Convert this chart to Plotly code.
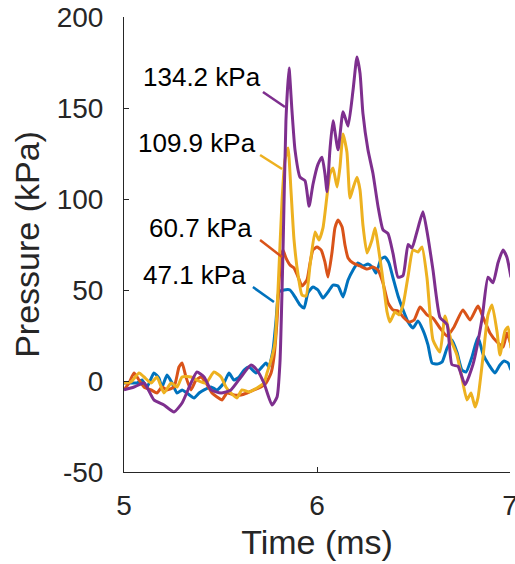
import plotly.graph_objects as go

# ---- data (time in ms, pressure in kPa) ----
blue_t = [5.000, 5.036, 5.067, 5.093, 5.119, 5.155, 5.181, 5.197, 5.223, 5.249, 5.275, 5.301, 5.326, 5.363,
          5.389, 5.415, 5.451, 5.482, 5.518, 5.544, 5.570, 5.596, 5.622, 5.648, 5.684, 5.710, 5.736, 5.751,
          5.772, 5.788, 5.803, 5.829, 5.860, 5.886, 5.912, 5.933, 5.953, 5.979, 6.005, 6.031, 6.057, 6.083,
          6.109, 6.135, 6.161, 6.187, 6.212, 6.238, 6.264, 6.290, 6.306, 6.332, 6.352, 6.373, 6.394, 6.420,
          6.446, 6.472, 6.497, 6.523, 6.549, 6.575, 6.596, 6.622, 6.648, 6.674, 6.699, 6.725, 6.751, 6.772,
          6.803, 6.834, 6.860, 6.891, 6.922, 6.948, 6.969, 6.990, 7.005]
blue_p = [-1.1, -1.1, -1.1, 0.5, -3.3, 4.4, 1.6, -3.3, 3.3, -1.1, -6.6, -4.9, -6.6, -9.3,
          -6.6, -4.9, -3.3, -4.9, -1.1, 4.4, 0.5, 2.2, 6.0, 7.7, 4.4, 7.1, 9.9, 7.7,
          17.0, 33.5, 49.0, 50.0, 50.0, 46.2, 41.8, 40.1, 48.4, 51.6, 50.0, 45.6, 48.9, 52.7,
          52.2, 46.2, 55.5, 61.0, 64.8, 63.2, 64.3, 62.1, 59.3, 67.0, 68.1, 64.8, 56.6, 46.7,
          39.0, 32.4, 29.1, 33.0, 28.0, 19.8, 9.9, 9.3, 10.4, 18.1, 22.5, 15.9, 6.0, 4.9,
          13.2, 24.2, 14.8, 8.8, 4.4, 8.8, 11.0, 9.9, 6.0]

orange_t = [5.000, 5.026, 5.052, 5.078, 5.104, 5.140, 5.171, 5.197, 5.223, 5.259, 5.285, 5.301, 5.321, 5.347,
            5.373, 5.399, 5.425, 5.456, 5.482, 5.508, 5.534, 5.570, 5.606, 5.637, 5.674, 5.710, 5.736, 5.762,
            5.777, 5.793, 5.803, 5.813, 5.824, 5.839, 5.860, 5.881, 5.902, 5.922, 5.948, 5.964, 5.979, 6.000,
            6.021, 6.041, 6.057, 6.078, 6.093, 6.109, 6.130, 6.145, 6.161, 6.187, 6.223, 6.259, 6.290, 6.316,
            6.342, 6.368, 6.394, 6.420, 6.446, 6.477, 6.503, 6.534, 6.570, 6.601, 6.637, 6.674, 6.710, 6.756,
            6.793, 6.834, 6.860, 6.896, 6.933, 6.964, 6.984, 7.005]
orange_p = [-4.9, -1.1, 4.4, 0.5, -3.3, -4.9, -6.6, -3.3, -4.9, -3.3, 7.7, 9.9, 2.2, -4.9,
            0.5, 2.2, -1.1, -6.6, -8.8, -10.4, -6.6, -7.7, -7.7, -6.6, -4.9, -3.3, -1.1, 4.4,
            13.2, 33.5, 53.8, 67.6, 72.0, 67.6, 63.7, 62.1, 57.1, 52.2, 55.5, 64.8, 72.0, 73.6,
            72.0, 65.4, 57.1, 70.9, 84.1, 88.5, 84.6, 74.7, 67.6, 64.8, 63.2, 61.5, 62.6, 61.0,
            53.8, 42.9, 39.0, 38.5, 35.2, 32.4, 33.5, 40.7, 36.3, 34.6, 29.1, 24.7, 29.7, 39.0,
            33.5, 41.2, 35.2, 26.4, 21.4, 18.7, 26.4, 19.8]

yellow_t = [5.000, 5.036, 5.078, 5.104, 5.140, 5.171, 5.207, 5.244, 5.275, 5.301, 5.347, 5.378, 5.425, 5.466,
            5.503, 5.528, 5.554, 5.585, 5.611, 5.648, 5.689, 5.725, 5.741, 5.767, 5.782, 5.798, 5.819, 5.834,
            5.850, 5.865, 5.881, 5.902, 5.922, 5.943, 5.964, 5.990, 6.010, 6.031, 6.052, 6.067, 6.083, 6.104,
            6.119, 6.135, 6.155, 6.171, 6.187, 6.207, 6.223, 6.238, 6.259, 6.285, 6.301, 6.316, 6.337, 6.363,
            6.378, 6.404, 6.425, 6.446, 6.472, 6.497, 6.523, 6.544, 6.570, 6.601, 6.637, 6.663, 6.694, 6.725,
            6.751, 6.777, 6.798, 6.819, 6.834, 6.860, 6.886, 6.907, 6.933, 6.948, 6.974, 6.990, 7.005]
yellow_p = [-1.1, -0.5, 4.4, 2.2, -1.1, 2.2, -6.6, -1.1, -3.3, 2.2, 2.2, 0.5, -1.1, 4.9,
            2.2, -3.3, -6.6, -9.3, -4.9, -6.0, -3.8, -1.1, 4.4, 13.2, 20.9, 50.0, 99.5, 121.4,
            128.0, 105.0, 77.5, 58.2, 47.3, 46.7, 63.7, 81.9, 77.5, 84.1, 102.0, 113.7, 117.0, 106.6,
            117.6, 135.7, 125.8, 100.5, 106.0, 112.0, 105.0, 85.7, 70.3, 77.5, 84.1, 74.7, 59.3, 37.9,
            32.4, 37.9, 36.3, 41.8, 57.7, 72.0, 70.9, 73.6, 56.6, 22.5, 15.9, 35.7, 22.5, 14.3,
            1.6, -10.4, -6.6, -14.3, -9.3, 13.2, 36.3, 41.8, 26.9, 14.3, 27.5, 29.7, 18.1]

purple_t = [5.000, 5.052, 5.104, 5.155, 5.207, 5.259, 5.301, 5.347, 5.378, 5.415, 5.451, 5.503, 5.554, 5.606,
            5.658, 5.689, 5.725, 5.767, 5.793, 5.808, 5.824, 5.839, 5.855, 5.870, 5.886, 5.912, 5.938, 5.959,
            5.979, 6.005, 6.026, 6.041, 6.052, 6.067, 6.083, 6.109, 6.135, 6.161, 6.187, 6.207, 6.223, 6.238,
            6.264, 6.290, 6.316, 6.342, 6.368, 6.394, 6.420, 6.446, 6.472, 6.492, 6.518, 6.549, 6.575, 6.601,
            6.637, 6.674, 6.699, 6.731, 6.767, 6.808, 6.855, 6.886, 6.912, 6.938, 6.964, 6.984, 7.005]
purple_p = [-4.9, -3.3, -1.1, -10.4, -13.2, -17.0, -12.1, -1.1, 4.9, 2.2, -4.9, -6.6, -4.9, 2.2,
            8.8, 6.0, -1.1, -13.2, -8.8, 10.0, 72.0, 143.0, 172.0, 149.0, 127.0, 112.0, 110.0, 96.0,
            108.0, 119.0, 123.0, 114.0, 104.0, 127.0, 143.0, 127.0, 148.0, 140.0, 160.0, 178.0, 169.0, 147.0,
            127.0, 114.0, 96.0, 83.0, 81.0, 70.0, 57.0, 58.0, 75.0, 73.0, 82.0, 93.0, 79.0, 61.0,
            35.0, 31.0, 9.0, 8.0, -2.0, 9.0, 34.0, 57.0, 54.0, 65.0, 72.0, 68.0, 57.0]

series_names = ["47.1 kPa", "60.7 kPa", "109.9 kPa", "134.2 kPa"]
series_colors = ["#0072BD", "#D95319", "#EDB120", "#7E2F8E"]

# label text positions and leader-line endpoints (data coordinates)
label_t = [5.363, 5.394, 5.378, 5.404]
label_p = [58.2, 84.0, 130.8, 167.0]
leader_t = [[5.668, 5.777], [5.705, 5.819], [5.705, 5.819], [5.720, 5.834]]
leader_p = [[51.6, 43.4], [77.5, 68.1], [124.2, 116.5], [158.8, 150.5]]

x_ticks = [5, 6, 7]
y_ticks = [-50, 0, 50, 100, 150, 200]

FONT = "Liberation Sans, Arial, sans-serif"
AX = "#262626"

fig = go.Figure()
all_t = [blue_t, orange_t, yellow_t, purple_t]
all_p = [blue_p, orange_p, yellow_p, purple_p]
for t, p, name, c in zip(all_t, all_p, series_names, series_colors):
    fig.add_trace(go.Scatter(x=t, y=p, mode="lines", name=name,
                             line=dict(color=c, width=3, shape="spline", smoothing=0.5),
                             showlegend=False, hoverinfo="skip"))

for lt, lp, c in zip(leader_t, leader_p, series_colors):
    fig.add_trace(go.Scatter(x=lt, y=lp, mode="lines", line=dict(color=c, width=2.5),
                             showlegend=False, hoverinfo="skip"))

for tx, py, name in zip(label_t, label_p, series_names):
    fig.add_annotation(x=tx, y=py, text=name, showarrow=False,
                       font=dict(family=FONT, size=26, color="black"),
                       xanchor="center", yanchor="middle")

fig.update_layout(
    width=515, height=564,
    margin=dict(l=124, r=5, t=17, b=92, autoexpand=False),
    paper_bgcolor="white", plot_bgcolor="white",
    font=dict(family=FONT, color=AX),
)
fig.update_xaxes(range=[5, 7], tickvals=x_ticks, ticktext=[str(v) for v in x_ticks],
                 automargin=False, ticklabeloverflow="allow",
                 showgrid=False, zeroline=False, showline=True, linecolor=AX, linewidth=1,
                 ticks="inside", ticklen=5, tickcolor=AX, tickwidth=1,
                 tickfont=dict(family=FONT, size=28, color=AX), ticklabelstandoff=8,
                 title=dict(text="Time (ms)", font=dict(family=FONT, size=34, color=AX), standoff=10))
fig.update_yaxes(range=[-50, 200], tickvals=y_ticks, ticktext=[str(v) for v in y_ticks],
                 automargin=False, ticklabeloverflow="allow",
                 showgrid=False, zeroline=False, showline=True, linecolor=AX, linewidth=1,
                 ticks="inside", ticklen=5, tickcolor=AX, tickwidth=1,
                 tickfont=dict(family=FONT, size=28, color=AX), ticklabelstandoff=14,
                 title=dict(text="Pressure (kPa)", font=dict(family=FONT, size=34, color=AX), standoff=6))

fig.write_html("out.html", config={"displayModeBar": False},
               post_script="document.body.style.margin='0';document.body.style.overflow='hidden';")
